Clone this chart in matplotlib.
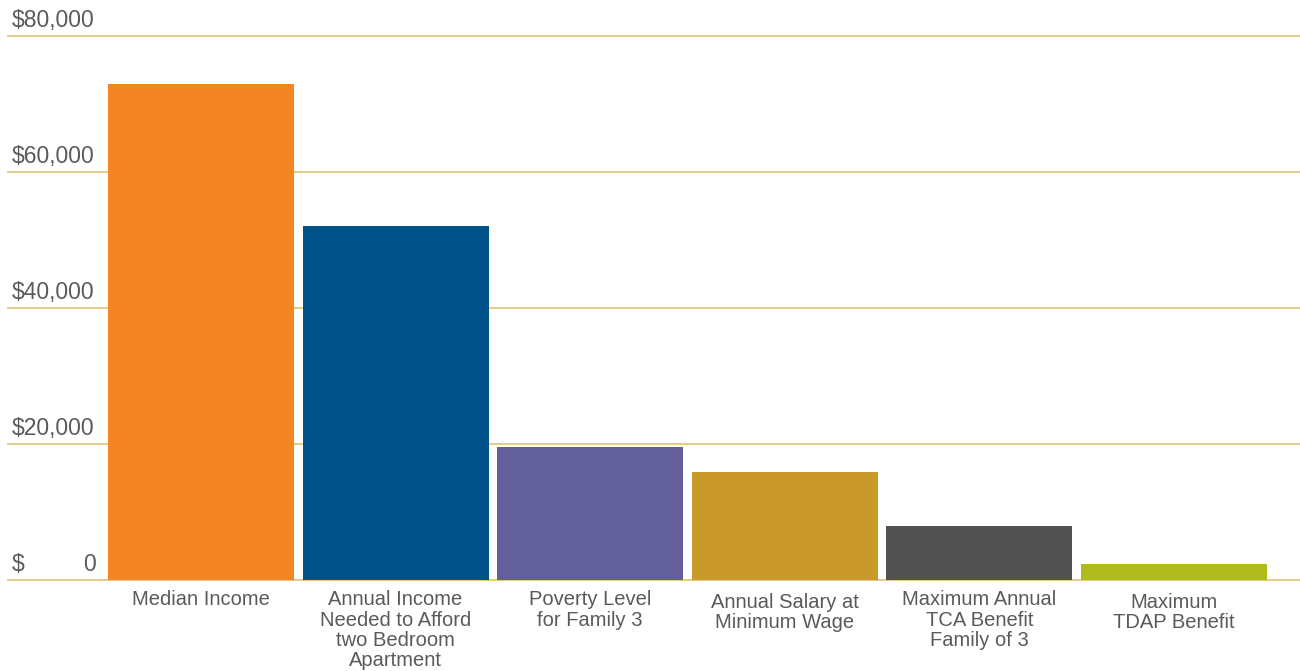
import matplotlib
matplotlib.use("Agg")
import matplotlib.pyplot as plt
import matplotlib.transforms as mtransforms

# data
categories = ["Median Income",
              "Annual Income\nNeeded to Afford\ntwo Bedroom\nApartment",
              "Poverty Level\nfor Family 3",
              "Annual Salary at\nMinimum Wage",
              "Maximum Annual\nTCA Benefit\nFamily of 3",
              "Maximum\nTDAP Benefit"]
values = [72900, 52000, 19550, 15870, 7940, 2350]
colors = ["#F38622", "#005288", "#625F9B", "#C9992B", "#515151", "#B0BB1E"]
ticks = [0, 20000, 40000, 60000, 80000]

plt.rcParams['font.family'] = ['Liberation Sans', 'DejaVu Sans']
txt = "#5a5a5a"
grid = "#E3C57F"

W, H = 1300, 671
fig = plt.figure(figsize=(W / 100, H / 100), dpi=100)
ax = fig.add_axes([8 / W, 91 / H, 1292 / W, 560 / H])
ax.set_xlim(-0.992, 5.648)
ax.set_ylim(0, 80000 * 560 / 544.3)
ax.axis('off')

for t in ticks:
    ax.axhline(t, color=grid, lw=1.3, zorder=1, clip_on=False)

x = range(len(values))
ax.bar(x, values, width=0.956, color=colors, zorder=2)

# tick labels sitting just above their gridline
tr = mtransforms.blended_transform_factory(fig.dpi_scale_trans, ax.transData)
lab_tr = mtransforms.offset_copy(tr, fig=fig, x=0, y=4, units='dots')
for t in ticks:
    if t == 0:
        ax.text(0.12, t, "$", transform=lab_tr, ha='left', va='bottom',
                fontsize=16.5, color=txt)
        ax.text(0.96, t, "0", transform=lab_tr, ha='right', va='bottom',
                fontsize=16.5, color=txt)
    else:
        ax.text(0.12, t, f"${t:,}", transform=lab_tr, ha='left', va='bottom',
                fontsize=16.5, color=txt)

# category labels under the bars
tr2 = mtransforms.blended_transform_factory(ax.transData, fig.transFigure)
y_top = [590, 590, 590, 593, 590, 593]
for i, lab in enumerate(categories):
    ax.text(i, 1 - y_top[i] / H, lab, transform=tr2, ha='center', va='top',
            fontsize=14.5, color=txt, linespacing=1.1)

fig.savefig("out.png", dpi=100)
